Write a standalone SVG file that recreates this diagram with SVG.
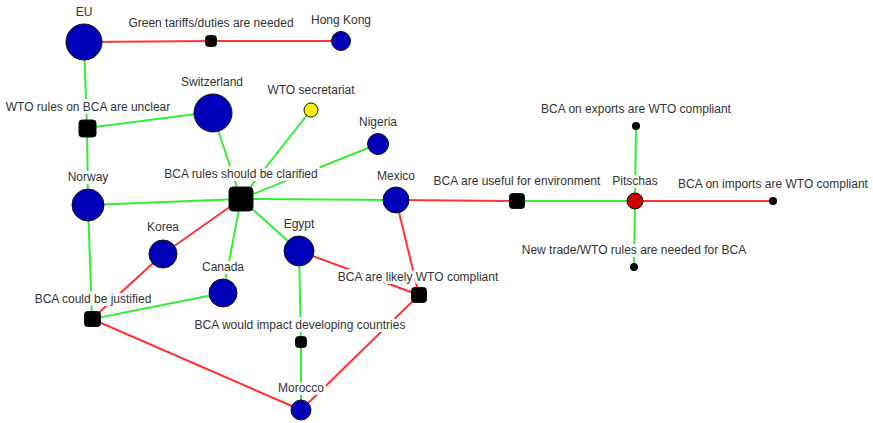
<svg xmlns="http://www.w3.org/2000/svg" width="873" height="423" viewBox="0 0 873 423">
<style>
.e{stroke-width:2;fill:none}
.r{stroke:#ff3333}
.g{stroke:#33ee33}
.c{fill:#0000bb;stroke:#111;stroke-width:1}
.s{fill:#000;stroke:#111;stroke-width:1}
text{font-family:"Liberation Sans",Arial,sans-serif;font-size:12px;fill:#333;text-anchor:middle;paint-order:stroke;stroke:#fff;stroke-width:6px;stroke-linejoin:round}
</style>
<rect width="873" height="423" fill="#fff"/>
<g id="connectors">
<line class="e r" x1="84" y1="42" x2="211" y2="41"/>
<line class="e r" x1="211" y1="41" x2="341" y2="41"/>
<line class="e g" x1="84" y1="42" x2="87" y2="128"/>
<line class="e g" x1="87" y1="128" x2="212" y2="112"/>
<line class="e g" x1="87" y1="128" x2="88" y2="205"/>
<line class="e g" x1="212" y1="112" x2="241" y2="199"/>
<line class="e g" x1="311" y1="110" x2="241" y2="199"/>
<line class="e g" x1="378" y1="144" x2="241" y2="199"/>
<line class="e g" x1="88" y1="205" x2="241" y2="199"/>
<line class="e g" x1="396" y1="200" x2="241" y2="199"/>
<line class="e r" x1="241" y1="199" x2="163" y2="254"/>
<line class="e g" x1="241" y1="199" x2="223" y2="293"/>
<line class="e g" x1="241" y1="199" x2="299" y2="251"/>
<line class="e g" x1="88" y1="205" x2="92" y2="319"/>
<line class="e r" x1="163" y1="254" x2="92" y2="319"/>
<line class="e g" x1="223" y1="293" x2="92" y2="319"/>
<line class="e r" x1="92" y1="319" x2="301" y2="410"/>
<line class="e r" x1="299" y1="251" x2="419" y2="295"/>
<line class="e r" x1="396" y1="200" x2="419" y2="295"/>
<line class="e g" x1="299" y1="251" x2="301" y2="342"/>
<line class="e g" x1="301" y1="342" x2="301" y2="410"/>
<line class="e r" x1="419" y1="295" x2="301" y2="410"/>
<line class="e r" x1="396" y1="200" x2="517" y2="201"/>
<line class="e g" x1="517" y1="201" x2="635" y2="201"/>
<line class="e g" x1="635" y1="201" x2="636" y2="126"/>
<line class="e r" x1="635" y1="201" x2="773" y2="201"/>
<line class="e g" x1="635" y1="201" x2="634" y2="267"/>
</g>
<g id="n-eu"><circle class="c" cx="84" cy="42" r="18"/><text x="84" y="16">EU</text></g>
<g id="n-green-tariffs"><rect class="s" x="205.5" y="35.5" width="11" height="11" rx="3"/><text x="211" y="27">Green tariffs/duties are needed</text></g>
<g id="n-hongkong"><circle class="c" cx="341" cy="41" r="9.5"/><text x="341" y="24">Hong Kong</text></g>
<g id="n-switzerland"><circle class="c" cx="213" cy="113" r="19"/><text x="212" y="86">Switzerland</text></g>
<g id="n-wto-secretariat"><circle cx="311" cy="110" r="7" fill="#ffee00" stroke="#111" stroke-width="1"/><text x="311" y="94">WTO secretariat</text></g>
<g id="n-nigeria"><circle class="c" cx="378" cy="144" r="10.5"/><text x="378" y="126">Nigeria</text></g>
<g id="n-wto-unclear"><rect class="s" x="79" y="120" width="17" height="17" rx="3"/><text x="88" y="111">WTO rules on BCA are unclear</text></g>
<g id="n-norway"><circle class="c" cx="88" cy="205" r="16"/><text x="88" y="181">Norway</text></g>
<g id="n-bca-clarified"><rect class="s" x="229" y="187" width="24" height="24" rx="4"/><text x="241" y="178">BCA rules should be clarified</text></g>
<g id="n-mexico"><circle class="c" cx="396" cy="200" r="13"/><text x="396" y="180">Mexico</text></g>
<g id="n-korea"><circle class="c" cx="163" cy="254" r="14"/><text x="163" y="231">Korea</text></g>
<g id="n-canada"><circle class="c" cx="223" cy="293" r="14"/><text x="223" y="271">Canada</text></g>
<g id="n-egypt"><circle class="c" cx="299" cy="251" r="15"/><text x="299" y="228">Egypt</text></g>
<g id="n-bca-justified"><rect class="s" x="84.5" y="311.5" width="16" height="15" rx="3"/><text x="93" y="303">BCA could be justified</text></g>
<g id="n-bca-likely"><rect class="s" x="411.5" y="287.5" width="15" height="15" rx="3"/><text x="418" y="281">BCA are likely WTO compliant</text></g>
<g id="n-bca-impact"><rect class="s" x="295.5" y="336.5" width="11" height="11" rx="3"/><text x="300" y="329">BCA would impact developing countries</text></g>
<g id="n-morocco"><circle class="c" cx="301" cy="410" r="10"/><text x="301" y="392">Morocco</text></g>
<g id="n-bca-useful"><rect class="s" x="509.5" y="193.5" width="15" height="15" rx="3"/><text x="517" y="185">BCA are useful for environment</text></g>
<g id="n-pitschas"><circle cx="635" cy="201" r="8" fill="#cc0000" stroke="#111" stroke-width="1"/><text x="635" y="185">Pitschas</text></g>
<g id="n-bca-exports"><circle cx="636" cy="126" r="4" fill="#000"/><text x="636" y="113">BCA on exports are WTO compliant</text></g>
<g id="n-bca-imports"><circle cx="773" cy="201" r="4" fill="#000"/><text x="773" y="188">BCA on imports are WTO compliant</text></g>
<g id="n-new-trade"><circle cx="634" cy="267" r="4" fill="#000"/><text x="634" y="254">New trade/WTO rules are needed for BCA</text></g>
</svg>
